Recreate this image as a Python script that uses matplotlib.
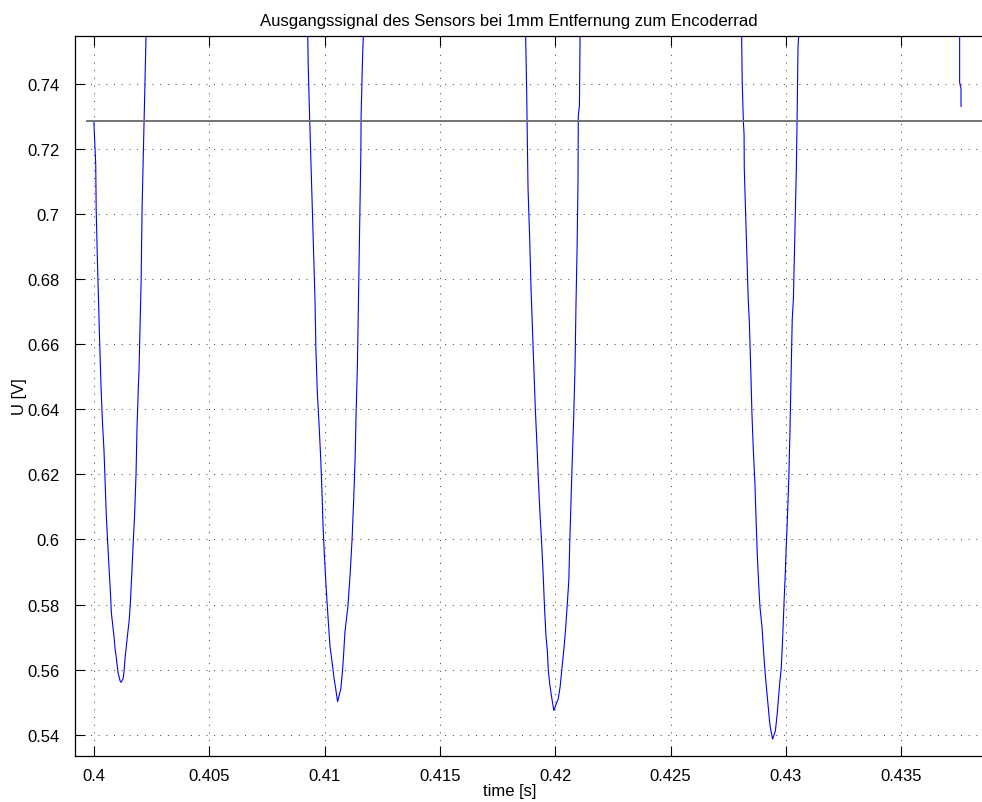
import matplotlib
matplotlib.use("Agg")
import matplotlib.pyplot as plt
from matplotlib.ticker import FuncFormatter

plt.rcParams['font.family'] = ['Liberation Sans', 'DejaVu Sans']

# sensor output per dip: (time [s], voltage [V])
dip1 = [
    (0.39999, 0.7282), (0.40007, 0.7153), (0.40009, 0.7015), (0.40014, 0.6867),
    (0.40019, 0.6738), (0.40024, 0.6609), (0.40030, 0.6471), (0.40036, 0.6364),
    (0.40043, 0.6272), (0.40048, 0.6173), (0.40053, 0.6072), (0.40059, 0.5989),
    (0.40066, 0.5897), (0.40071, 0.5835), (0.40075, 0.5774), (0.40087, 0.5697),
    (0.40091, 0.5664), (0.40097, 0.5633), (0.40104, 0.5590), (0.40113, 0.5565),
    (0.40117, 0.5561), (0.40126, 0.5573), (0.40130, 0.5596), (0.40134, 0.5633),
    (0.40139, 0.5667), (0.40146, 0.5713), (0.40152, 0.5750), (0.40157, 0.5802),
    (0.40163, 0.5888), (0.40169, 0.5980), (0.40176, 0.6081), (0.40182, 0.6204),
    (0.40186, 0.6339), (0.40192, 0.6471), (0.40195, 0.6524), (0.40199, 0.6646),
    (0.40204, 0.6794), (0.40208, 0.7015), (0.40214, 0.7199), (0.40221, 0.7414),
    (0.40226, 0.7570),
]
dip2 = [
    (0.40926, 0.7570), (0.40929, 0.7445), (0.40935, 0.7291), (0.40941, 0.7147),
    (0.40958, 0.6738), (0.40962, 0.6585), (0.40968, 0.6453), (0.40976, 0.6349),
    (0.40983, 0.6247), (0.40989, 0.6134), (0.40993, 0.6042), (0.40999, 0.5949),
    (0.41006, 0.5857), (0.41015, 0.5756), (0.41023, 0.5673), (0.41032, 0.5624),
    (0.41041, 0.5572), (0.41048, 0.5541), (0.41056, 0.5502), (0.41070, 0.5541),
    (0.41077, 0.5593), (0.41081, 0.5633), (0.41088, 0.5716), (0.41101, 0.5796),
    (0.41110, 0.5888), (0.41119, 0.6002), (0.41126, 0.6124), (0.41132, 0.6247),
    (0.41136, 0.6379), (0.41142, 0.6533), (0.41146, 0.6708), (0.41157, 0.7190),
    (0.41158, 0.7300), (0.41165, 0.7497), (0.41169, 0.7570),
]
dip3 = [
    (0.41871, 0.7570), (0.41876, 0.7383), (0.41879, 0.7230), (0.41882, 0.7079),
    (0.41889, 0.6929), (0.41895, 0.6772), (0.41901, 0.6651), (0.41908, 0.6512),
    (0.41914, 0.6396), (0.41921, 0.6286), (0.41927, 0.6182), (0.41934, 0.6078),
    (0.41941, 0.5991), (0.41948, 0.5887), (0.41954, 0.5783), (0.41960, 0.5702),
    (0.41966, 0.5656), (0.41970, 0.5598), (0.41976, 0.5557), (0.41983, 0.5522),
    (0.41994, 0.5475), (0.42013, 0.5511), (0.42021, 0.5546), (0.42029, 0.5603),
    (0.42038, 0.5667), (0.42045, 0.5725), (0.42051, 0.5788), (0.42059, 0.5875),
    (0.42063, 0.5991), (0.42069, 0.6130), (0.42074, 0.6246), (0.42080, 0.6373),
    (0.42086, 0.6535), (0.42090, 0.6720), (0.42095, 0.6900), (0.42099, 0.7114),
    (0.42100, 0.7301), (0.42105, 0.7332), (0.42108, 0.7570),
]
dip4 = [
    (0.42808, 0.7570), (0.42811, 0.7404), (0.42816, 0.7283), (0.42819, 0.7245),
    (0.42820, 0.7137), (0.42837, 0.6738), (0.42842, 0.6667), (0.42848, 0.6523),
    (0.42853, 0.6390), (0.42859, 0.6278), (0.42866, 0.6175), (0.42871, 0.6063),
    (0.42876, 0.5960), (0.42882, 0.5868), (0.42888, 0.5792), (0.42897, 0.5730),
    (0.42902, 0.5674), (0.42908, 0.5612), (0.42914, 0.5561), (0.42922, 0.5500),
    (0.42926, 0.5469), (0.42930, 0.5438), (0.42934, 0.5418), (0.42943, 0.5387),
    (0.42955, 0.5413), (0.42962, 0.5459), (0.42968, 0.5510), (0.42974, 0.5561),
    (0.42980, 0.5602), (0.42985, 0.5674), (0.42989, 0.5745), (0.42993, 0.5817),
    (0.42998, 0.5899), (0.43002, 0.5981), (0.43006, 0.6047), (0.43013, 0.6186),
    (0.43018, 0.6329), (0.43022, 0.6472), (0.43028, 0.6677), (0.43033, 0.6738),
    (0.43046, 0.7148), (0.43049, 0.7291), (0.43053, 0.7511), (0.43058, 0.7570),
]
dip5 = [(0.43754, 0.7570), (0.43754, 0.7404), (0.43760, 0.7383), (0.43760, 0.7330)]

threshold_t = [0.39971, 0.4400]
threshold_u = 0.7284

x_ticks = [0.4, 0.405, 0.41, 0.415, 0.42, 0.425, 0.43, 0.435]
y_ticks = [0.54, 0.56, 0.58, 0.6, 0.62, 0.64, 0.66, 0.68, 0.7, 0.72, 0.74]

fig = plt.figure(figsize=(9.82, 8.03), dpi=100)
ax = fig.add_axes([0.0761, 0.0577, 0.9239, 0.8958])

for dip in (dip1, dip2, dip3, dip4, dip5):
    t = [p[0] for p in dip]
    u = [p[1] for p in dip]
    ax.plot(t, u, color='#0000ff', lw=0.8)

ax.plot(threshold_t, [threshold_u, threshold_u], color='0.45', lw=1.4)

ax.set_xlim(0.39916, 0.43851)
ax.set_ylim(0.5336, 0.7545)
ax.set_xticks(x_ticks)
ax.set_yticks(y_ticks)
fmt = FuncFormatter(lambda v, pos: '%g' % round(v, 4))
ax.xaxis.set_major_formatter(fmt)
ax.yaxis.set_major_formatter(fmt)

ax.grid(True, color='0.25', linestyle=(0, (1, 6.7)), lw=0.72)
ax.tick_params(direction='in', length=7, width=0.8, labelsize=12,
               top=True, right=False, colors='black')
ax.tick_params(axis='y', pad=11)
ax.tick_params(axis='x', pad=9)
ax.spines['right'].set_visible(False)
for s in ('left', 'bottom', 'top'):
    ax.spines[s].set_linewidth(0.9)

# the original figure was cut on the right, so labels sit left of centre
ax.set_title('Ausgangssignal des Sensors bei 1mm Entfernung zum Encoderrad',
             fontsize=12, pad=8, x=0.479)
ax.set_xlabel('time [s]', fontsize=12, labelpad=0, x=0.479)
ax.set_ylabel('U [V]', fontsize=12, labelpad=0)

fig.savefig('out.png', dpi=100)
